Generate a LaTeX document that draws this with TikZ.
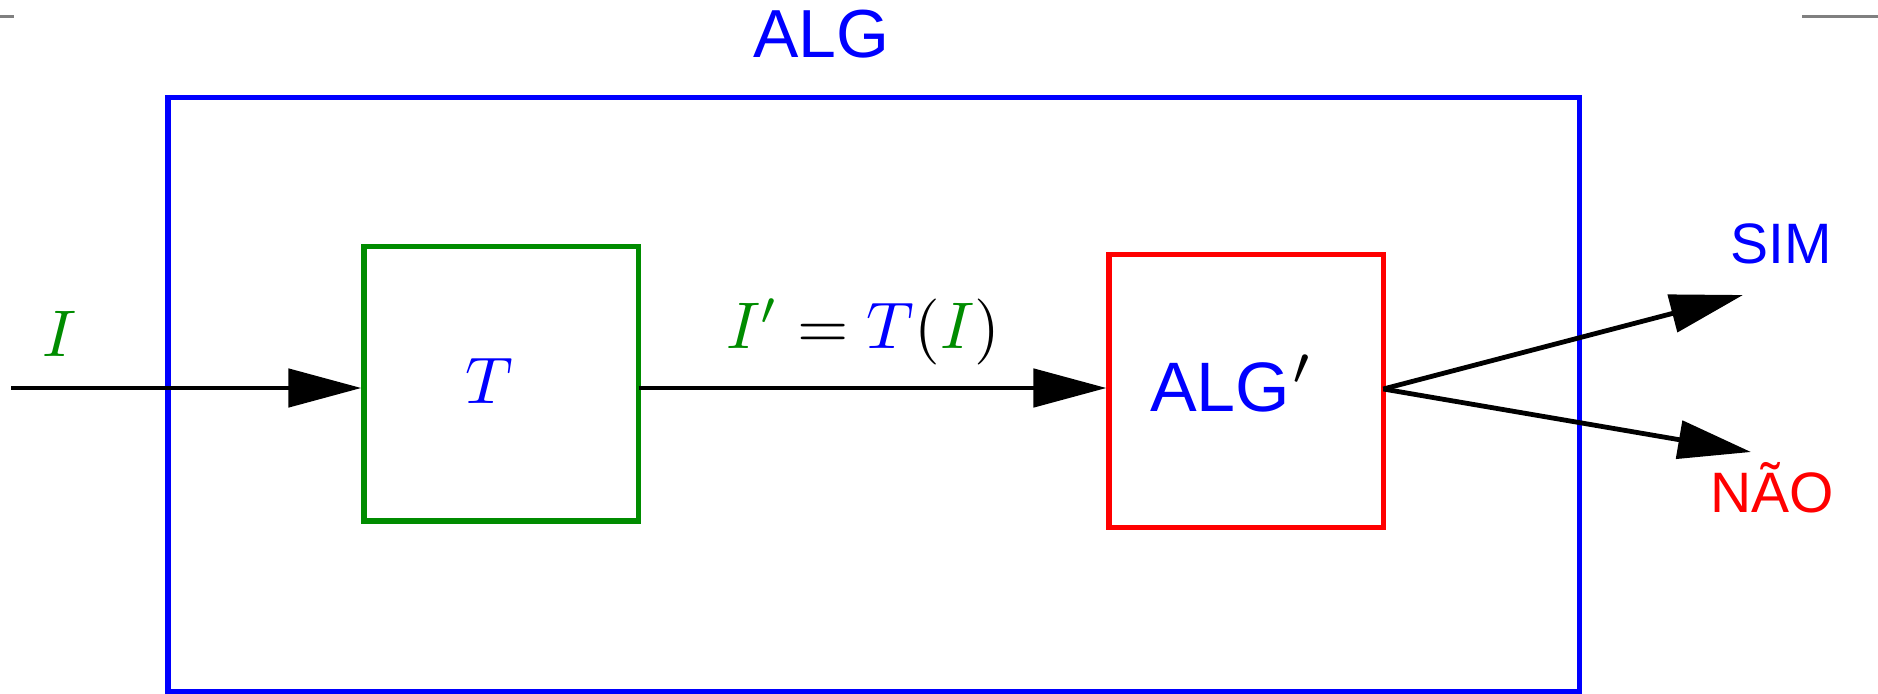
\documentclass[tikz,border=0pt]{standalone}
\usepackage{graphicx}
\usepackage{fontspec}
\newfontfamily\arialf{Liberation Sans}
\usetikzlibrary{arrows.meta}
\definecolor{boxgreen}{RGB}{0,140,0}
\newcommand{\bigmathlab}[1]{{\normalsize\scalebox{6.6}{$#1$}}}
\tikzset{
  boxline/.style={draw, line width=5.2pt, inner sep=0pt, rectangle},
  flow/.style={line width=4.8pt, -{Triangle[length=73pt,width=38pt]}},
  sanslab/.style={inner sep=0pt, font=\arialf\fontsize{57}{68}\selectfont},
  mathlab/.style={inner sep=0pt, font=\normalsize},
}
\begin{document}
\begin{tikzpicture}[x=1pt,y=-1pt]
\useasboundingbox (0,0) rectangle (1878,693);
% corner marks
\draw[gray, line width=3pt] (0,16.7) -- (14,16.7);
\draw[gray, line width=3pt] (1802,16.7) -- (1878,16.7);
% outer ALG box
\node[boxline, blue, minimum width=1411.3pt, minimum height=594.4pt] (alg) at (873.6,394.5) {};
\node[inner sep=0pt, anchor=base, text=blue, font=\arialf\fontsize{68}{80}\selectfont] (algtitle) at (821.5,57.3) {ALG};
% T box
\node[boxline, boxgreen, minimum width=274.7pt, minimum height=274.3pt] (tbox) at (501.3,383.8) {};
\node[mathlab, anchor=base] (tlab) at (489,403.3) {\bigmathlab{\color{blue}T}};
% ALG' box
\node[boxline, red, minimum width=274.3pt, minimum height=273.4pt] (algp) at (1246.2,391) {};
\node[inner sep=0pt, anchor=base west, font=\arialf\fontsize{70}{82}\selectfont] (algplab) at (1150,411.7) {\textcolor{blue}{ALG}\hspace{2pt}{\normalsize\scalebox{7.6}{$'$}}};
% input
\coordinate (inp) at (11,388);
\node[mathlab, anchor=base] (ilab) at (60,356) {\bigmathlab{\color{boxgreen}I}};
\draw[flow] (inp) -- (inp -| tbox.west);
% middle
\coordinate (mid) at (638.7,388);
\draw[flow] (mid) -- (mid -| algp.west);
\node[mathlab, anchor=base west] (iplab) at (726,348) {\bigmathlab{\color{boxgreen}I'\color{black} = \color{blue}T\color{black}(\color{boxgreen}I\color{black})}};
% outputs
\coordinate (fork) at (1383.3,389);
\coordinate (simtip) at (1743,295);
\coordinate (naotip) at (1751,452);
\draw[flow] (fork) -- (simtip);
\draw[flow] (fork) -- (naotip);
\node[sanslab, anchor=base west, text=blue] (sim) at (1730,263.3) {SIM};
\node[sanslab, anchor=base, text=red] (nao) at (1772,512) {NÃO};
\end{tikzpicture}
\end{document}
